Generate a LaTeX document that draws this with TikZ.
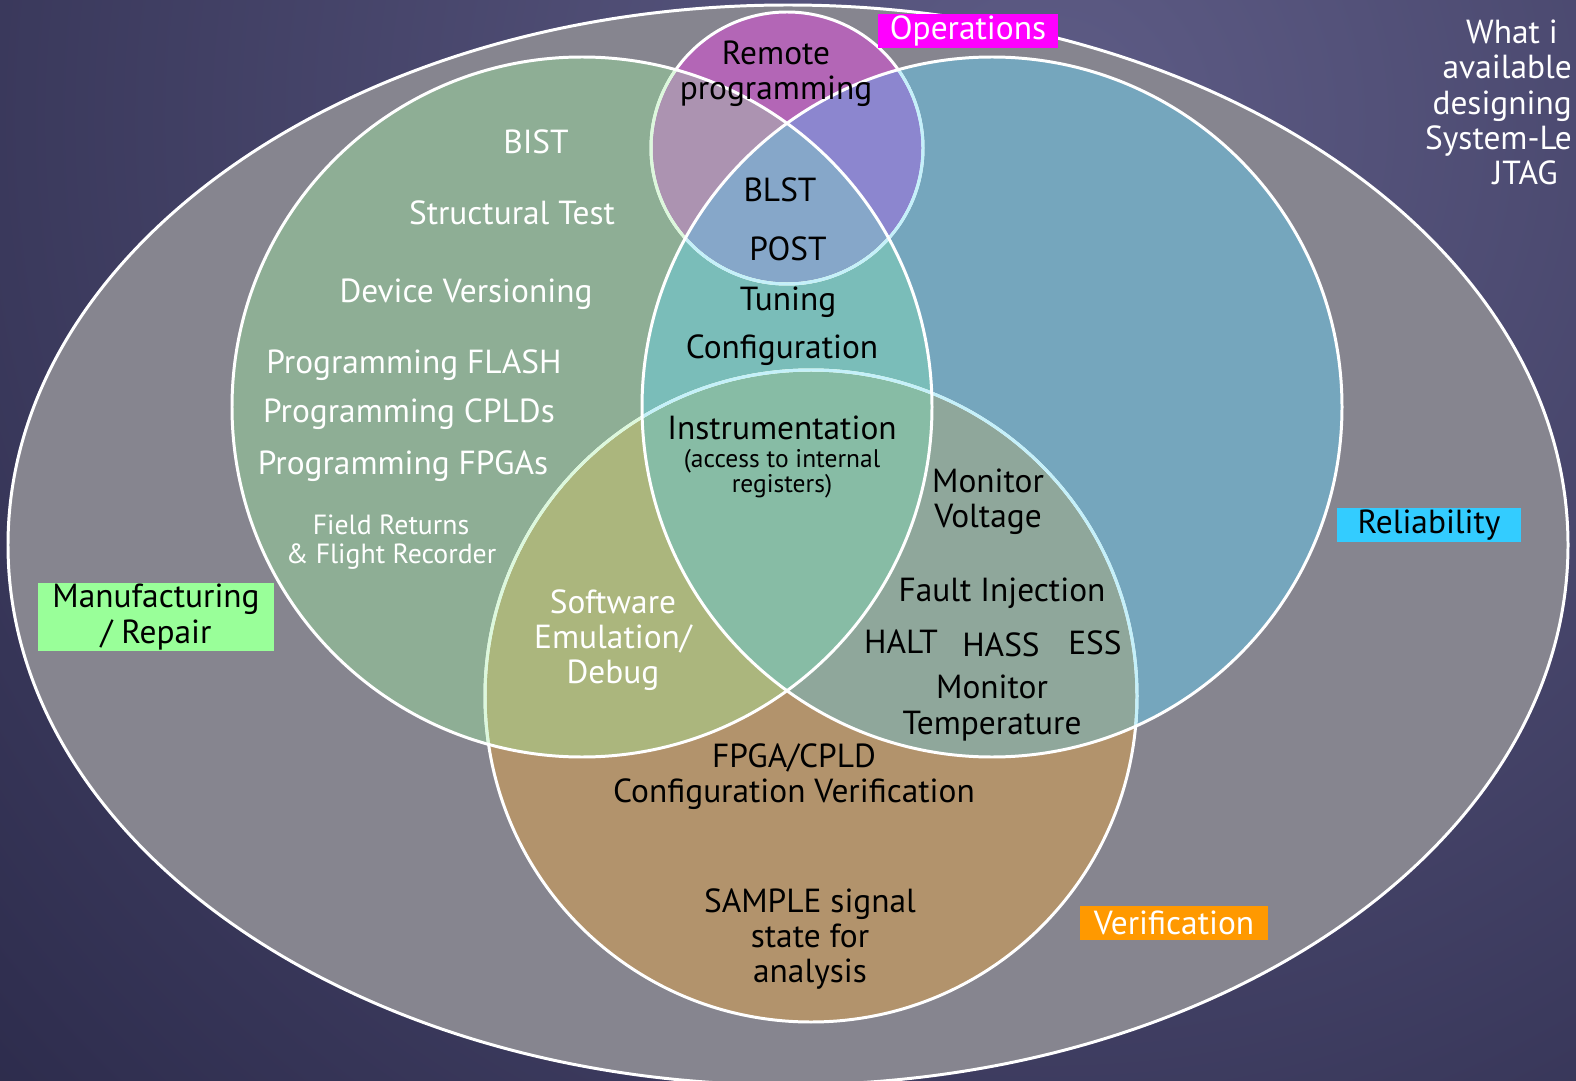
\documentclass[tikz,border=0pt]{standalone}
\usepackage{fontspec}
\setmainfont{PT Sans}
\usepackage{tikz}
\usetikzlibrary{positioning, calc}

\definecolor{bgLo}{HTML}{2B2A4A}
\definecolor{bgHi}{HTML}{5E5C86}
\definecolor{cOuter}{HTML}{86858F}
\definecolor{cMfg}{HTML}{8EAE95}
\definecolor{cRel}{HTML}{75A6BD}
\definecolor{cMR}{HTML}{7ABDB9}
\definecolor{cOps}{HTML}{B366B6}
\definecolor{cOM}{HTML}{AC93B1}
\definecolor{cOR}{HTML}{8C86CF}
\definecolor{cOMR}{HTML}{86A7C9}
\definecolor{cVer}{HTML}{B2936C}
\definecolor{cVM}{HTML}{ABB67D}
\definecolor{cVR}{HTML}{8FA79B}
\definecolor{cVMR}{HTML}{87BCA5}
\definecolor{edgeM}{HTML}{DCF8DC}
\definecolor{edgeR}{HTML}{C4F0FA}
\definecolor{tagOps}{HTML}{FF00FF}
\definecolor{tagMfg}{HTML}{99FF99}
\definecolor{tagRel}{HTML}{33CCFF}
\definecolor{tagVer}{HTML}{FF9900}

\begin{document}
\begin{tikzpicture}[x=0.02cm, y=-0.02cm,
    ring/.style={draw=white, line width=1.7pt},
    lbl/.style={text=black, align=center, font=\fontsize{19}{20}\selectfont},
    wlbl/.style={lbl, text=white},
    tag/.style={inner sep=0pt, font=\fontsize{19}{20}\selectfont, align=center}]
    \useasboundingbox (0,0) rectangle (1576,1081);

    % Background
    \begin{scope}
        \clip (0,0) rectangle (1576,1081);
        \shade[inner color=bgHi, outer color=bgLo] (1050,120) circle[radius=1500];
    \end{scope}

    % Circle centres
    \coordinate (outer) at (788,545);
    \coordinate (mfg) at (582,407);
    \coordinate (rel) at (992,407);
    \coordinate (ops) at (787,148);
    \coordinate (ver) at (811,696);

    % Fills
    \fill[cOuter] (outer) ellipse[x radius=780, y radius=540];
    \fill[cMfg] (mfg) circle[radius=350];
    \fill[cRel] (rel) circle[radius=350];
    \begin{scope}
        \clip (mfg) circle[radius=350];
        \fill[cMR] (rel) circle[radius=350];
    \end{scope}
    \fill[cVer] (ver) circle[radius=326];
    \begin{scope}
        \clip (ver) circle[radius=326];
        \fill[cVM] (mfg) circle[radius=350];
        \fill[cVR] (rel) circle[radius=350];
        \clip (mfg) circle[radius=350];
        \fill[cVMR] (rel) circle[radius=350];
    \end{scope}
    \fill[cOps] (ops) circle[radius=136];
    \begin{scope}
        \clip (ops) circle[radius=136];
        \fill[cOM] (mfg) circle[radius=350];
        \fill[cOR] (rel) circle[radius=350];
        \clip (mfg) circle[radius=350];
        \fill[cOMR] (rel) circle[radius=350];
    \end{scope}

    % Outlines
    \draw[ring] (outer) ellipse[x radius=780, y radius=540];
    \draw[ring] (ver) circle[radius=326];
    \draw[ring] (ops) circle[radius=136];
    \begin{scope}
        \clip (mfg) circle[radius=350];
        \draw[ring, draw=edgeM] (ver) circle[radius=326];
        \draw[ring, draw=edgeM] (ops) circle[radius=136];
    \end{scope}
    \begin{scope}
        \clip (rel) circle[radius=350];
        \draw[ring, draw=edgeR] (ver) circle[radius=326];
        \draw[ring, draw=edgeR] (ops) circle[radius=136];
    \end{scope}
    \draw[ring] (mfg) circle[radius=350];
    \draw[ring] (rel) circle[radius=350];

    % Operations
    \node[lbl] (remote) at (776,74) {Remote\\programming};
    \node[tag, fill=tagOps, text=white, minimum width=3.6cm, minimum height=0.68cm] (opstag) at (968,31) {Operations};

    % Manufacturing / Repair
    \node[wlbl] (bist) at (536,142) {BIST};
    \node[wlbl] (structtest) at (512,213) {Structural Test};
    \node[wlbl] (devver) at (466,294) {Device Versioning};
    \node[wlbl] (progflash) at (414,365) {Programming FLASH};
    \node[wlbl] (progcpld) at (409,414) {Programming CPLDs};
    \node[wlbl] (progfpga) at (403,466) {Programming FPGAs};
    \node[wlbl, font=\fontsize{15.8}{16.4}\selectfont] (fieldret) at (391,542) {Field Returns\\\& Flight Recorder};
    \node[tag, fill=tagMfg, text=black, minimum width=4.72cm, minimum height=1.38cm] (mfgtag) at (156,617) {Manufacturing\\/ Repair};

    % Overlap of the top circles
    \node[lbl] (blst) at (780,190) {BLST};
    \node[lbl] (post) at (788,249) {POST};
    \node[lbl] (tuning) at (788,302) {Tuning};
    \node[lbl] (config) at (782,350) {Configuration};
    \node[lbl] (instr) at (782,428) {Instrumentation};
    \node[lbl, font=\fontsize{14.5}{14.7}\selectfont, below=-2pt of instr] (access) {(access to internal\\registers)};

    % Reliability
    \node[lbl] (monvolt) at (988,502) {Monitor\\Voltage};
    \node[lbl] (fault) at (1002,593) {Fault Injection};
    \node[lbl] (halt) at (901,642) {HALT};
    \node[lbl] (hass) at (1001,645) {HASS};
    \node[lbl] (ess) at (1095,643) {ESS};
    \node[lbl] (montemp) at (992,708) {Monitor\\Temperature};
    \node[tag, fill=tagRel, text=black, minimum width=3.68cm, minimum height=0.7cm] (reltag) at (1429,525) {Reliability};

    % Verification
    \node[wlbl] (swemu) at (613,640) {Software\\Emulation/\\Debug};
    \node[lbl] (fpgaver) at (794,777) {FPGA/CPLD\\Configuration Verification};
    \node[lbl] (sample) at (810,939) {SAMPLE signal\\state for\\analysis};
    \node[tag, fill=tagVer, text=white, minimum width=3.78cm, minimum height=0.68cm] (vertag) at (1174,923) {Verification};

    % Slide title at the right edge
    \node[wlbl, align=right, anchor=north east] (title) at (1578,14) {What i\hphantom{s}\\available\\designing\\System-Le\\JTAG\hphantom{s}};
\end{tikzpicture}
\end{document}
